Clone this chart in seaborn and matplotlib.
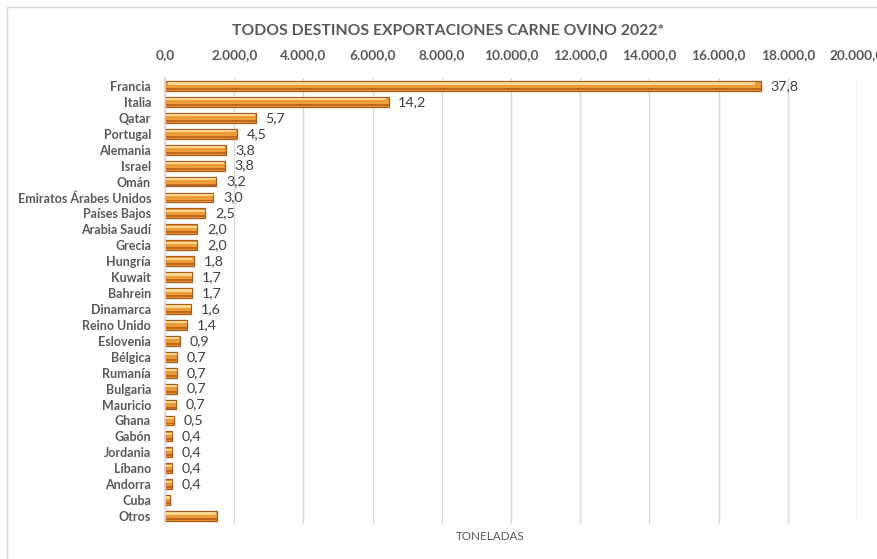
import matplotlib
matplotlib.use('Agg')
import matplotlib.pyplot as plt
import seaborn as sns
import pandas as pd
import numpy as np

paises = ['Francia', 'Italia', 'Qatar', 'Portugal', 'Alemania', 'Israel', 'Omán',
          'Emiratos Árabes Unidos', 'Países Bajos', 'Arabia Saudí', 'Grecia', 'Hungría',
          'Kuwait', 'Bahrein', 'Dinamarca', 'Reino Unido', 'Eslovenia', 'Bélgica',
          'Rumanía', 'Bulgaria', 'Mauricio', 'Ghana', 'Gabón', 'Jordania', 'Líbano',
          'Andorra', 'Cuba', 'Otros']
toneladas = [17220, 6460, 2620, 2070, 1760, 1720, 1480, 1400, 1160, 930, 930, 830,
             790, 780, 750, 650, 420, 340, 340, 340, 320, 250, 210, 200, 190, 190, 150, 1500]
porcentajes = ['37,8', '14,2', '5,7', '4,5', '3,8', '3,8', '3,2', '3,0', '2,5', '2,0',
               '2,0', '1,8', '1,7', '1,7', '1,6', '1,4', '0,9', '0,7', '0,7', '0,7',
               '0,7', '0,5', '0,4', '0,4', '0,4', '0,4', '', '']
ticks = list(range(0, 20001, 2000))

df = pd.DataFrame({'pais': paises, 'ton': toneladas})

sns.set_theme(style='white')
plt.rcParams['font.family'] = ['Lato', 'DejaVu Sans']

fig = plt.figure(figsize=(8.78, 5.59), dpi=100)
ax = fig.add_axes([165 / 878, 1 - 524 / 559, 692 / 878, 446 / 559])

# marco del gráfico
fig.patches.append(plt.Rectangle((7 / 878, -0.1), 1.2, 1 - 7 / 559 + 0.1,
                                 transform=fig.transFigure, fill=False,
                                 edgecolor='#D9D9D9', linewidth=1))

sns.barplot(data=df, y='pais', x='ton', orient='h', ax=ax, color='#EE9B3A',
            width=0.62, edgecolor='#A85A1A', linewidth=0.9, saturation=1)
# brillo superior y sombra inferior de las barras
pos = np.arange(len(paises))
ax.barh(pos - 0.16, np.array(toneladas) * 0.985, height=0.14, color='#FBD690',
        linewidth=0, left=np.array(toneladas) * 0.005)
ax.barh(pos + 0.19, np.array(toneladas), height=0.12, color='#BD6820', linewidth=0)

for i, (v, t) in enumerate(zip(toneladas, porcentajes)):
    if t:
        ax.annotate(t, (v, i), xytext=(7, 0), textcoords='offset points',
                    va='center', ha='left', fontsize=10.3, color='#404040')

ax.set_xlim(0, 20000)
ax.set_ylim(len(paises) - 0.5, -0.5)
ax.set_xticks(ticks)
ax.set_xticklabels([f'{t:,.1f}'.replace(',', 'X').replace('.', ',').replace('X', '.') for t in ticks],
                   fontsize=9.8, fontweight='bold', color='#595959')
ax.xaxis.tick_top()
ax.tick_params(axis='x', length=0, pad=12)
ax.tick_params(axis='y', length=0, pad=10)
for lbl in ax.get_yticklabels():
    lbl.set_fontsize(9)
    lbl.set_fontweight('bold')
    lbl.set_color('#595959')
ax.set_xlabel('')
ax.set_ylabel('')
ax.grid(axis='x', color='#D9D9D9', linewidth=1)
ax.set_axisbelow(True)
for s in ['top', 'right', 'bottom']:
    ax.spines[s].set_visible(False)
ax.spines['left'].set_color('#D9D9D9')

fig.text(448 / 878, 1 - 31 / 559, 'TODOS DESTINOS EXPORTACIONES CARNE OVINO 2022*',
         ha='center', va='center', fontsize=11.3, fontweight='bold', color='#595959')
fig.text(490 / 878, 1 - 537 / 559, 'TONELADAS', ha='center', va='center',
         fontsize=8.4, color='#595959')

fig.savefig('out.png', dpi=100, facecolor='white')
